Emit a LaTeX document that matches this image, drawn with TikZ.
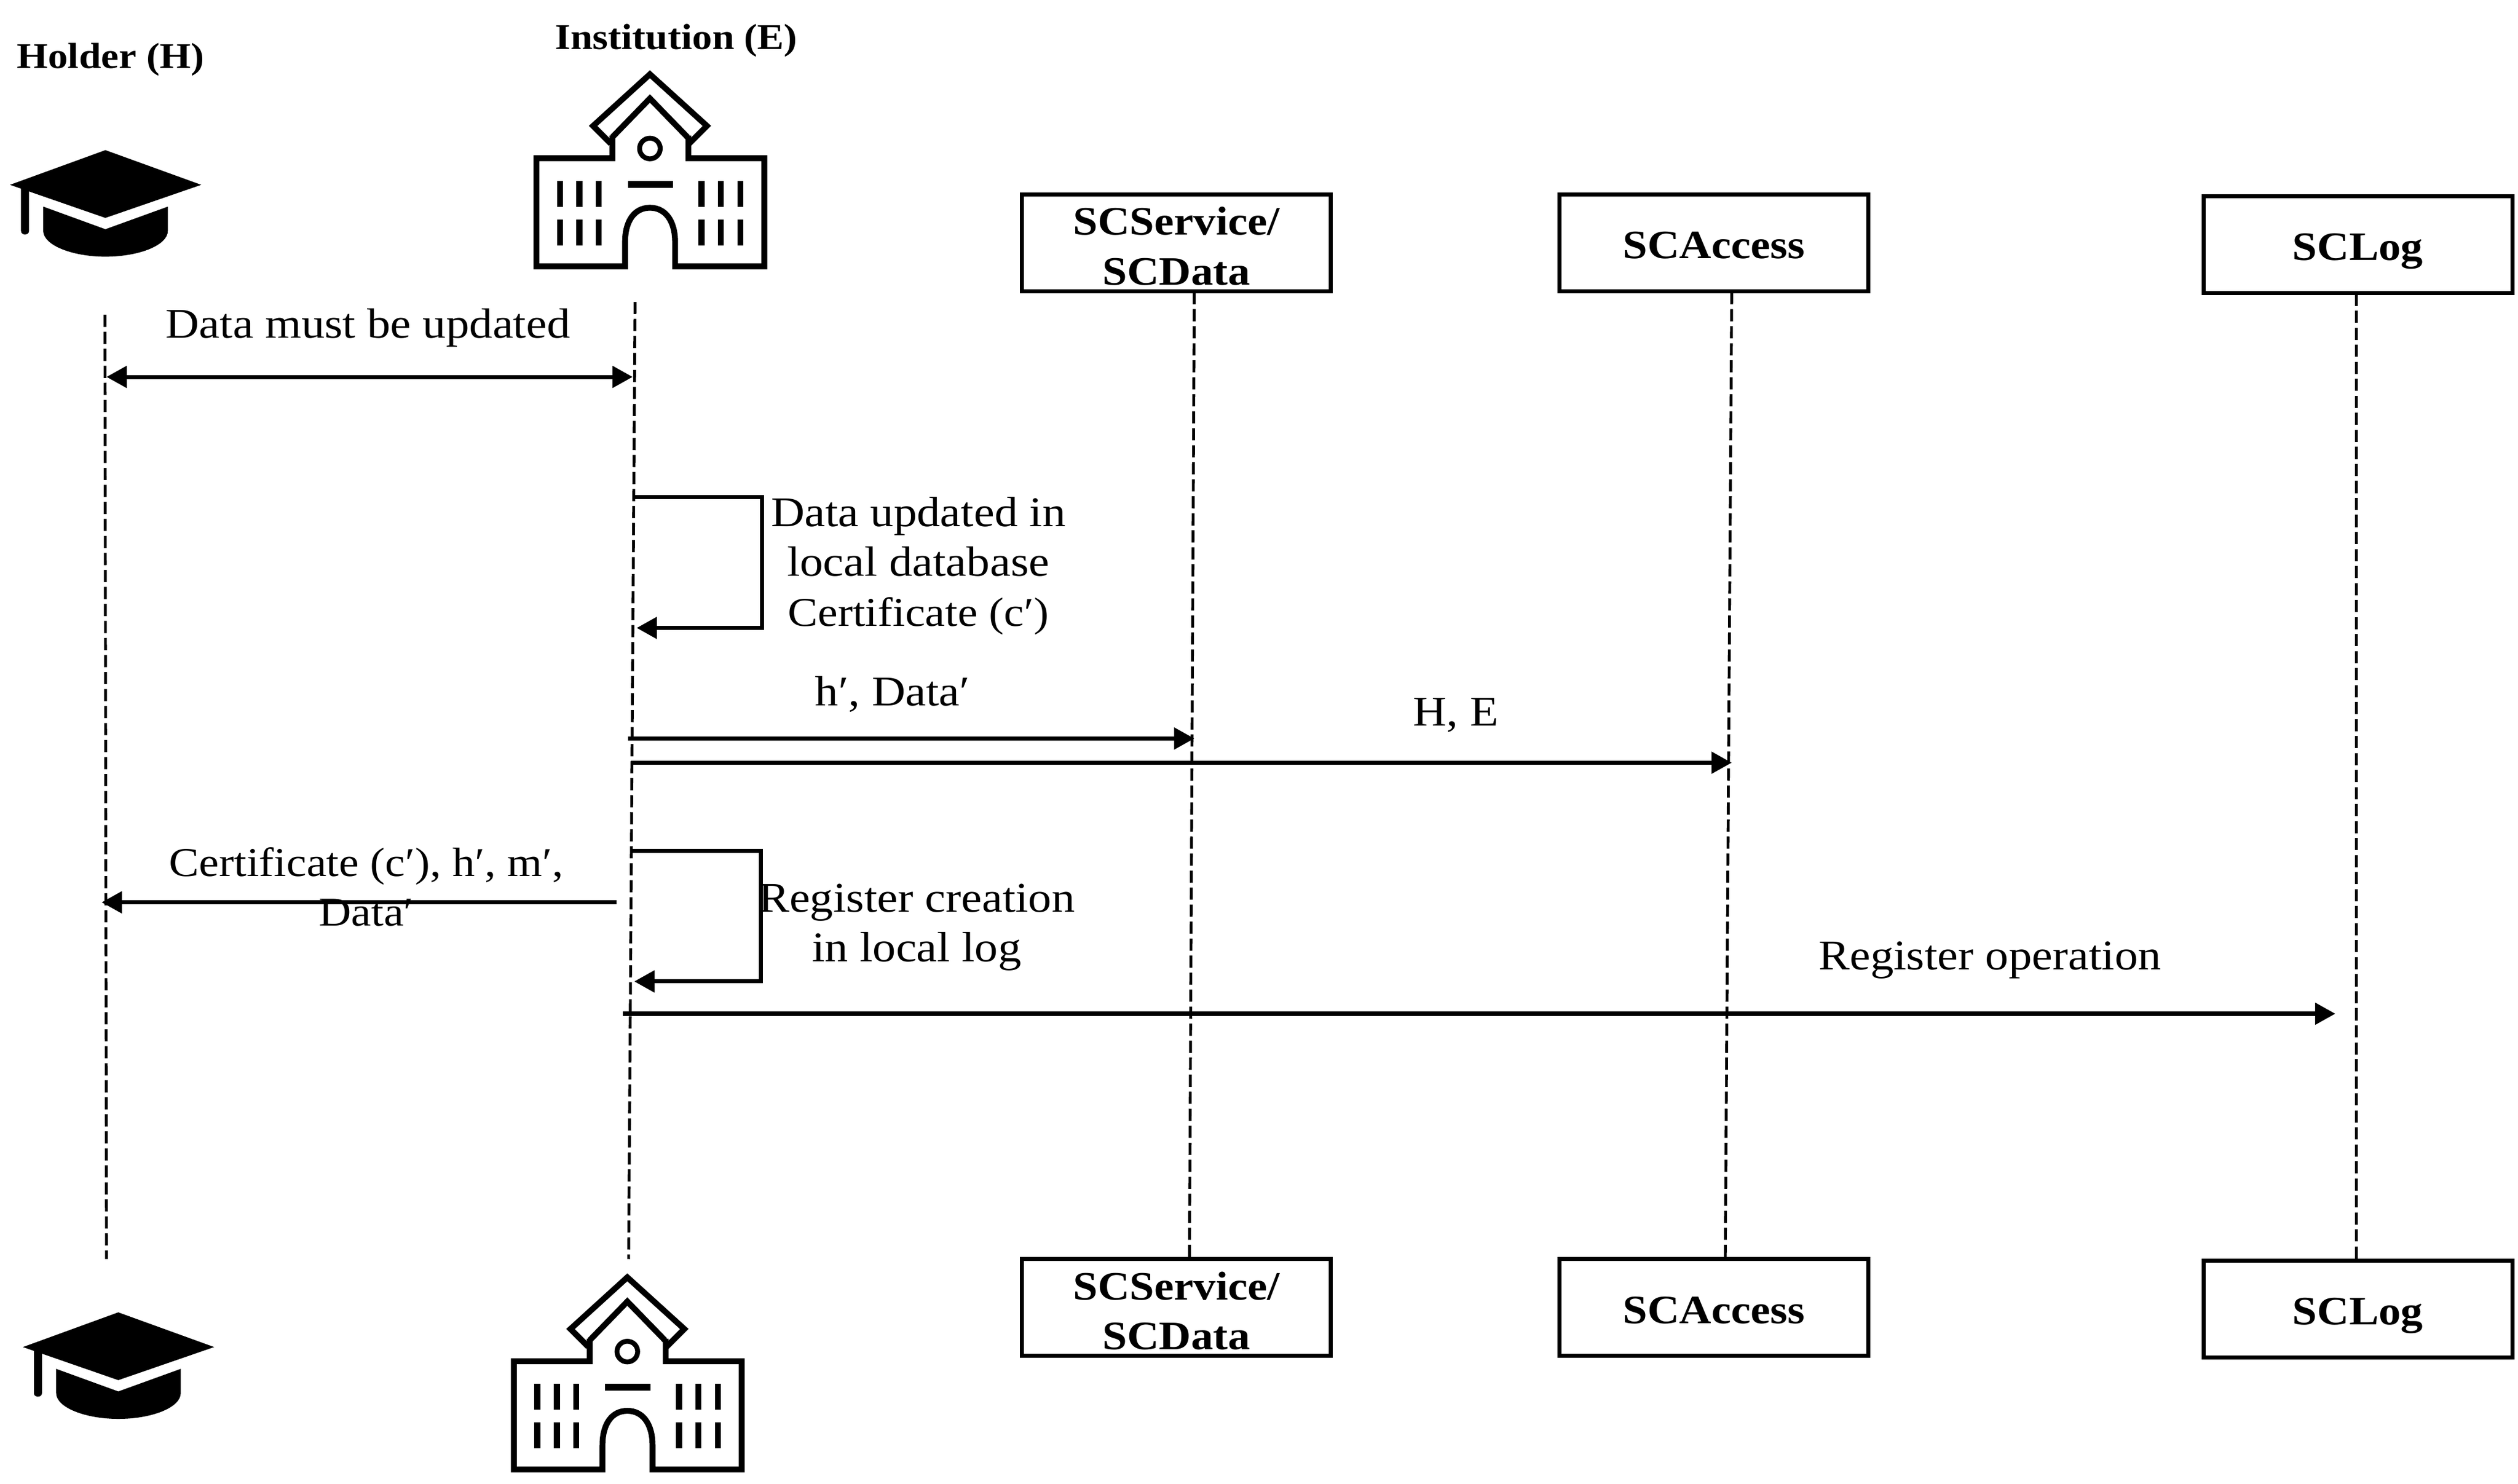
\documentclass[tikz,border=0pt]{standalone}
\usepackage{fontspec}
\setmainfont[FakeStretch=1.1]{Liberation Serif}
\usetikzlibrary{arrows.meta}
\tikzset{
  actor/.style={draw=black,line width=2pt,fill=white,minimum width=152.5pt,minimum height=47.8pt,inner sep=0pt,align=center,font=\fontsize{19.9}{24.6}\selectfont\bfseries},
  actorone/.style={actor,text height=16pt,text depth=0.4pt},
  head/.style={inner sep=0pt,font=\fontsize{17.9}{22}\selectfont\bfseries},
  lbl/.style={inner sep=0pt,align=center,font=\fontsize{20.9}{24.6}\selectfont},
  lifeline/.style={draw=black,line width=1.4pt,dash pattern=on 6pt off 2.4pt},
  msg/.style={draw=black,line width=2pt,-{Triangle[length=10pt,width=10.5pt]}},
  msgb/.style={draw=black,line width=2pt,{Triangle[length=10pt,width=10.5pt]}-{Triangle[length=10pt,width=10.5pt]}},
  selfmsg/.style={msg,line join=miter},
  pics/cap/.style={code={
    \fill[black] (65.3,93) -- (124.7,114.5) -- (65.3,135) -- (6.2,114.5) -- cycle;
    \fill[black] (26.8,128) -- (65.3,142) -- (104,128) -- (104,143)
       .. controls (104,152) and (86,159) .. (65.3,159)
       .. controls (45,159) and (26.8,152) .. (26.8,143) -- cycle;
    \fill[black] (13,114) -- (18,118) -- (18,143) .. controls (18,146) and (13,146) .. (13,143) -- cycle;
  }},
  pics/school/.style={code={
    \begin{scope}[draw=black,line width=2.9pt,miter limit=10]
      \draw (378.5,89) -- (367.5,78) -- (402.7,46) -- (438,78) -- (427,89);
      \draw (379.4,85) -- (402.7,61) -- (426,85);
      \draw (379.4,84) -- (379.4,98) -- (332.4,98) -- (332.4,165) -- (387.3,165) -- (387.3,150)
         .. controls (387.3,137) and (393,128.7) .. (402.7,128.7)
         .. controls (412.4,128.7) and (418.3,137) .. (418.3,150) -- (418.3,165) -- (473.6,165) -- (473.6,98) -- (426.5,98) -- (426.5,84);
      \draw[line width=2.4pt] (402.7,92) ellipse (6.4 and 6.4);
      \fill[black] (389,112) rectangle (417,116.3);
      \foreach \xx in {347,359,371,434.7,446.7,458.8}{
        \draw[line width=3pt] (\xx,112) -- (\xx,128);
        \draw[line width=3pt] (\xx,136) -- (\xx,152);
      }
    \end{scope}
  }},
}
\begin{document}
\begin{tikzpicture}[x=0.02801cm,y=-0.02801cm]
\useasboundingbox (0,0) rectangle (1560.2,919.3);

% column heads
\node[head] (holderHead) at (68.5,37) {Holder (H)};
\node[head] (instHead) at (419,25) {Institution (E)};

% icons
\pic at (0,0) {cap};
\pic at (0,0) {school};
\pic at (8,720) {cap};
\pic at (-14,745.3) {school};

% actor boxes
\node[actor] (svcT) at (729,150.5) {\rule{0pt}{17pt}SCService/\\SCData};
\node[actorone] (accT) at (1062,150.5) {SCAccess};
\node[actorone] (logT) at (1461,151.5) {SCLog};
\node[actor] (svcB) at (729,810) {\rule{0pt}{17pt}SCService/\\SCData};
\node[actorone] (accB) at (1062,810) {SCAccess};
\node[actorone] (logB) at (1461,811) {SCLog};

% lifeline ends
\coordinate (hT) at (65,195);
\coordinate (hB) at (66,780);
\coordinate (eT) at (393.5,187);
\coordinate (eB) at (389.5,780);
\coordinate (sT) at (740,181);
\coordinate (sB) at (737,780);
\coordinate (aT) at (1073,181);
\coordinate (aB) at (1069,780);
\coordinate (lT) at (1460,182);
\coordinate (lB) at (1460,781);
\draw[lifeline] (hT) -- (hB);
\draw[lifeline] (eT) -- (eB);
\draw[lifeline] (sT) -- (sB);
\draw[lifeline] (aT) -- (aB);
\draw[lifeline] (lT) -- (lB);

% messages
\coordinate (m1a) at (66,233.5);
\coordinate (m1b) at (392,233.5);
\draw[msgb] (m1a) -- (m1b);
\node[lbl] (t1) at (228,203) {Data must be updated};

\coordinate (m2a) at (393,308);
\coordinate (m2b) at (472,308);
\coordinate (m2c) at (472,389);
\coordinate (m2d) at (394.5,389);
\draw[selfmsg] (m2a) -- (m2b) -- (m2c) -- (m2d);
\node[lbl] (t2) at (569,350.5) {Data updated in\\local database\\{\fontsize{20.2}{24.6}\selectfont Certificate (c′)}};

\coordinate (m3a) at (389,457.5);
\coordinate (m3b) at (740,457.5);
\draw[msg] (m3a) -- (m3b);
\node[lbl] (t3) at (553,430) {h′, Data′};

\coordinate (m4a) at (391,472.5);
\coordinate (m4b) at (1073,472.5);
\draw[msg] (m4a) -- (m4b);
\node[lbl] (t4) at (902,443) {H, E};

\coordinate (m5a) at (382,559);
\coordinate (m5b) at (63,559);
\draw[msg] (m5a) -- (m5b);
\node[lbl,font=\fontsize{20.2}{24.6}\selectfont] (t5) at (227,549.5) {Certificate (c′), h′, m′,\\Data′};

\coordinate (m6a) at (391,527);
\coordinate (m6b) at (471.5,527);
\coordinate (m6c) at (471.5,608);
\coordinate (m6d) at (393,608);
\draw[selfmsg] (m6a) -- (m6b) -- (m6c) -- (m6d);
\node[lbl] (t6) at (568,574.5) {Register creation\\in local log};

\coordinate (m7a) at (386,628);
\coordinate (m7b) at (1447,628);
\draw[msg] (m7a) -- (m7b);
\node[lbl] (t7) at (1233,595) {Register operation};
\end{tikzpicture}
\end{document}
